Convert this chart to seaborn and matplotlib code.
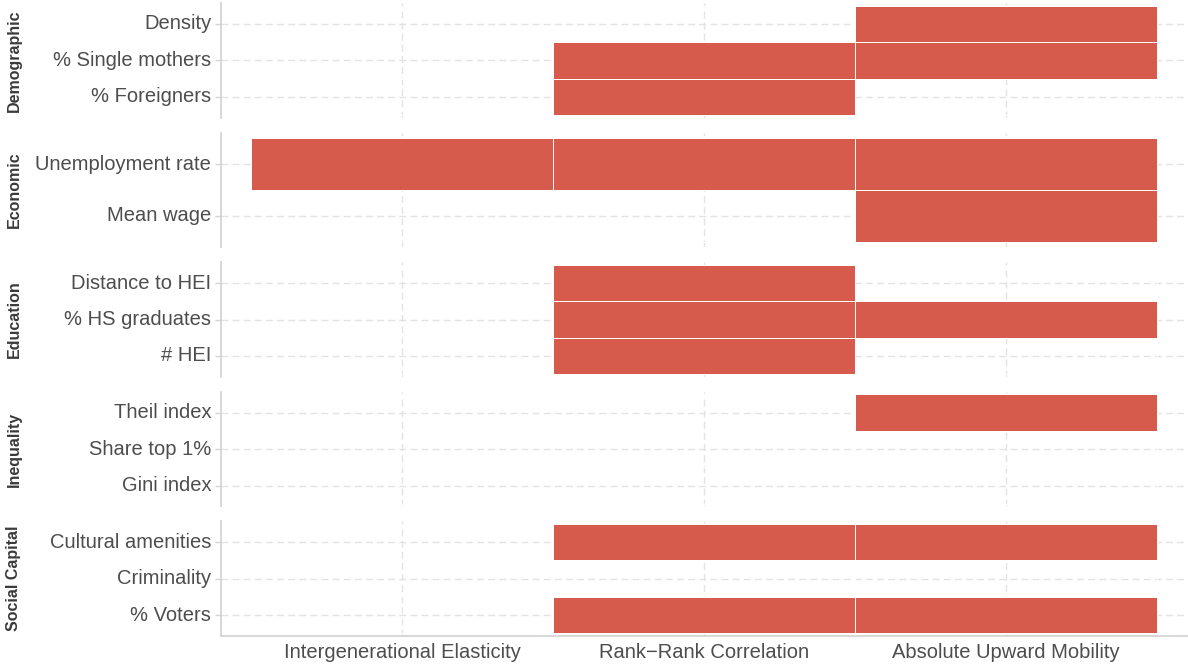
import numpy as np
import pandas as pd
import matplotlib
matplotlib.use("Agg")
import matplotlib.pyplot as plt
from matplotlib.colors import ListedColormap
import seaborn as sns

# ---------------- data ----------------
measures = ["Intergenerational Elasticity", "Rank\u2212Rank Correlation", "Absolute Upward Mobility"]
groups = ["Demographic", "Economic", "Education", "Inequality", "Social Capital"]
variables = ["Density", "% Single mothers", "% Foreigners",
             "Unemployment rate", "Mean wage",
             "Distance to HEI", "% HS graduates", "# HEI",
             "Theil index", "Share top 1%", "Gini index",
             "Cultural amenities", "Criminality", "% Voters"]
variable_group = ["Demographic"] * 3 + ["Economic"] * 2 + ["Education"] * 3 + \
                 ["Inequality"] * 3 + ["Social Capital"] * 3
# 1 = significant (tile drawn), 0 = not
sig_ige = [0, 0, 0, 1, 0, 0, 0, 0, 0, 0, 0, 0, 0, 0]
sig_rrc = [0, 1, 1, 1, 0, 1, 1, 1, 0, 0, 0, 1, 0, 1]
sig_aum = [1, 1, 0, 1, 1, 0, 1, 0, 1, 0, 0, 1, 0, 1]

df = pd.DataFrame({
    "variable": variables,
    "group": variable_group,
    measures[0]: sig_ige,
    measures[1]: sig_rrc,
    measures[2]: sig_aum,
})

# ---------------- style ----------------
sns.set_theme(style="white")
plt.rcParams["font.family"] = ["Liberation Sans", "DejaVu Sans"]

tile_color = "#D65B4C"
text_color = "#4D4D4D"
spine_color = "#D4D4D4"
grid_color = "#E3E3E3"

W, H = 1188, 667
fig, axes = plt.subplots(len(groups), 1, figsize=(W / 100, H / 100), dpi=100)
fig.subplots_adjust(left=221 / W, right=0.9995, top=1 - 3 / H, bottom=1 - 636 / H, hspace=0.13)

for i, (ax, g) in enumerate(zip(axes, groups)):
    sub = df[df["group"] == g].set_index("variable")[measures]
    n = len(sub)
    mat = sub.astype(float)
    sns.heatmap(mat, ax=ax, cmap=ListedColormap([tile_color]), mask=(mat == 0),
                cbar=False, linewidths=0.7, linecolor="white", vmin=0, vmax=1,
                xticklabels=measures, yticklabels=list(sub.index))
    pad = 0.22 / n
    ax.set_xlim(-0.1, 3.1)
    ax.set_ylim(n + pad, -pad)
    ax.set_xlabel("")
    ax.set_ylabel("")
    ax.set_axisbelow(True)
    ax.grid(True, color=grid_color, linestyle=(0, (5, 3)), linewidth=1.0)
    for s in ["top", "right", "bottom", "left"]:
        ax.spines[s].set_visible(False)
    ax.spines["left"].set_visible(True)
    ax.spines["left"].set_color(spine_color)
    ax.spines["left"].set_linewidth(1.3)
    ax.tick_params(axis="y", length=4, width=1, color=spine_color, pad=3,
                   labelsize=14.5, labelcolor=text_color, rotation=0, left=True)
    for lab in ax.get_yticklabels():
        lab.set_rotation(0)
    if i == len(groups) - 1:
        ax.spines["bottom"].set_visible(True)
        ax.spines["bottom"].set_color(spine_color)
        ax.spines["bottom"].set_linewidth(1.3)
        ax.tick_params(axis="x", length=0, pad=5, labelsize=14.5,
                       labelcolor=text_color, rotation=0, bottom=True)
        for lab in ax.get_xticklabels():
            lab.set_rotation(0)
    else:
        ax.tick_params(axis="x", length=0, labelbottom=False, bottom=False)
    # strip label on the left
    bb = ax.get_position()
    fig.text(14 / W, (bb.y0 + bb.y1) / 2, g, rotation=90, ha="center", va="center",
             fontsize=11.5, fontweight="bold", color="#3A3A3A")

fig.savefig("out.png", dpi=100)
